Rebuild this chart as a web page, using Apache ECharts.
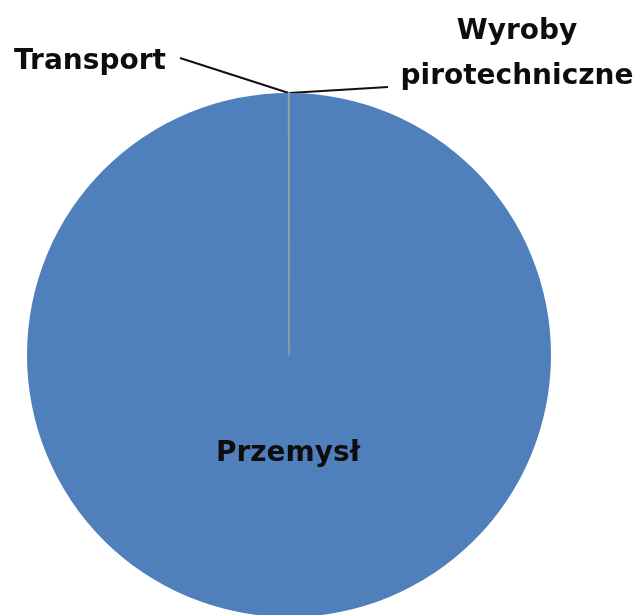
<!DOCTYPE html>
<html><head><meta charset="utf-8">
<script src="https://cdn.jsdelivr.net/npm/echarts@6/dist/echarts.min.js"></script>
<style>html,body{margin:0;padding:0;background:#fff}#c{width:640px;height:615px}</style>
</head><body><div id="c"></div>
<script>
const categories = ['Wyroby\npirotechniczne', 'Przemysł', 'Transport'];
const values = [0.03, 99.94, 0.03];

const labelPos = [
  {x: 517, y: 54, align: 'center', lineEnd: [388, 87]},
  {x: 288, y: 454, align: 'center'},
  {x: 90, y: 62, align: 'center', lineEnd: [180, 58]}
];

const chart = echarts.init(document.getElementById('c'), null, {renderer: 'canvas'});
const fontFam = '"DejaVu Sans", sans-serif';
chart.setOption({
  animation: false,
  series: [{
    type: 'pie',
    center: [289, 355],
    radius: 262,
    startAngle: 90,
    clockwise: true,
    minAngle: 0,
    avoidLabelOverlap: false,
    data: categories.map((c, i) => ({
      name: c,
      value: values[i],
      itemStyle: i === 1 ? {color: '#4f80bb', borderWidth: 0}
                         : {color: '#8fa9a1', borderColor: '#8fa9a1', borderWidth: 1.4},
      label: i === 1 ? {position: 'inside'} : {position: 'outside'},
      labelLine: {show: i !== 1, length: 10, length2: 0, smooth: false,
        lineStyle: {color: '#111', width: 2}}
    })),
    label: {
      show: true,
      formatter: '{b}',
      color: '#0d0d0d',
      fontFamily: fontFam,
      fontWeight: 'bold',
      fontSize: 28,
      lineHeight: 45
    },
    labelLayout: function (p) {
      const lp = labelPos[p.dataIndex];
      const out = {x: lp.x, y: lp.y, align: lp.align, verticalAlign: 'middle'};
      if (lp.lineEnd && p.labelLinePoints) {
        out.labelLinePoints = [p.labelLinePoints[0], lp.lineEnd];
      }
      return out;
    }
  }]
});
</script></body></html>
